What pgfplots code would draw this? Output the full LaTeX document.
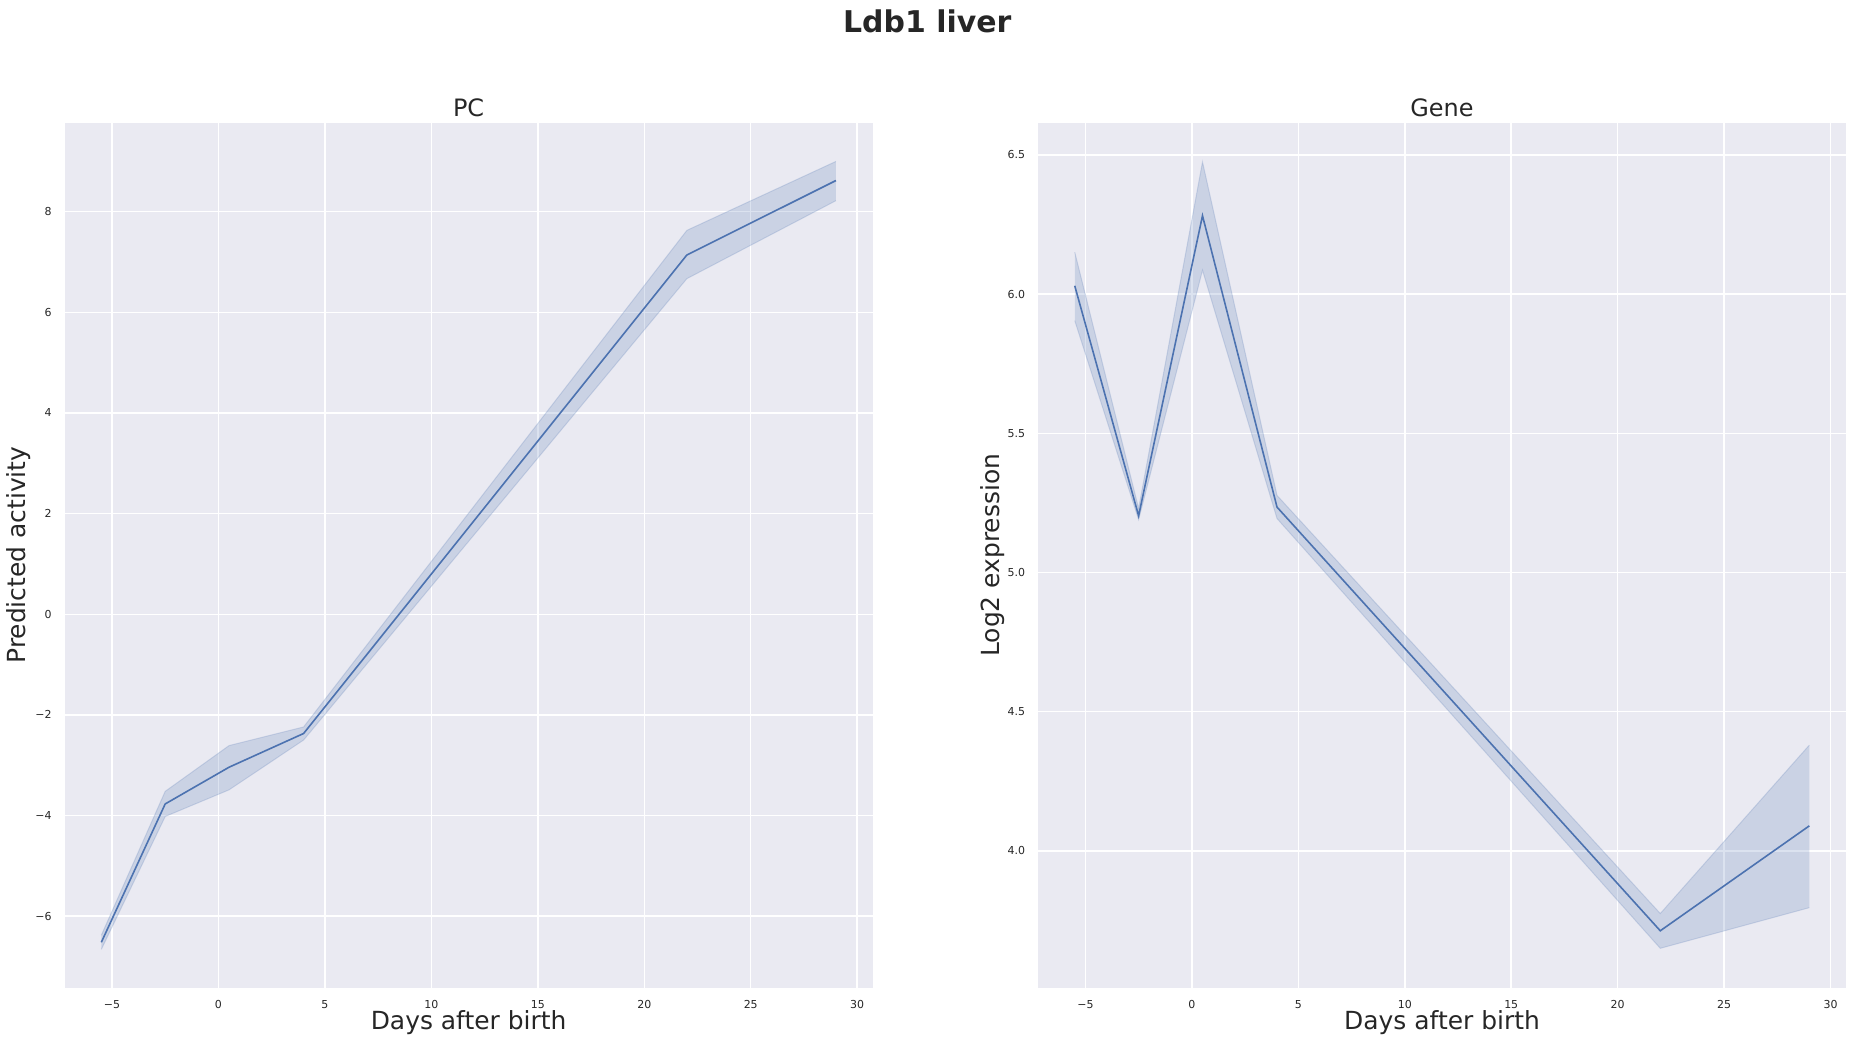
\documentclass[border=0pt]{standalone}
\usepackage{pgfplots}
\pgfplotsset{compat=1.18}
\usepackage{pgfplotstable}
\usepgfplotslibrary{fillbetween}
\usepackage{fontspec}
\setmainfont{DejaVu Sans}
\definecolor{bg}{HTML}{EAEAF2}
\definecolor{sb}{HTML}{4C72B0}
\definecolor{txt}{HTML}{262626}

\pgfplotstableread{
x     mean   upper  lower
-5.5  -6.52  -6.38  -6.66
-2.5  -3.77  -3.52  -4.02
0.5   -3.04  -2.61  -3.49
4     -2.37  -2.24  -2.50
22     7.14   7.63   6.67
29     8.62   9.00   8.22
}\pcdata

\pgfplotstableread{
x     mean   upper  lower
-5.5  6.030  6.151  5.905
-2.5  5.204  5.230  5.190
0.5   6.282  6.475  6.086
4     5.235  5.277  5.194
22    3.713  3.775  3.650
29    4.090  4.380  3.796
}\genedata

\pgfplotsset{sbstyle/.style={
  scale only axis, width=405pt, height=433.5pt,
  axis background/.style={fill=bg},
  axis line style={draw=none},
  grid=major, major grid style={white, line width=0.75pt},
  major tick length=0pt, tick style={draw=none},
  xmin=-7.225, xmax=30.725,
  xtick={-5,0,5,10,15,20,25,30},
  xticklabels={−5,0,5,10,15,20,25,30},
  tick label style={font=\fontsize{5.5}{6}\selectfont, text=txt},
  xticklabel style={yshift=-3pt},
  yticklabel style={xshift=-3pt},
  title style={font=\fontsize{12}{14}\selectfont, text=txt, at={(axis description cs:0.5,1)}, anchor=south, yshift=-6.5pt},
  xlabel style={font=\fontsize{12.5}{15}\selectfont, text=txt, at={(axis description cs:0.5,0)}, anchor=center, yshift=-17.5pt},
  ylabel style={font=\fontsize{12.5}{15}\selectfont, text=txt, at={(axis description cs:0,0.5)}, anchor=center, yshift=23pt},
  xlabel={Days after birth},
}}

\begin{document}
\begin{tikzpicture}
\path (0,0) rectangle (926.5pt,523pt);
\node[font=\bfseries\fontsize{15}{18}\selectfont, text=txt] at (462.5pt,512.5pt) {Ldb1 liver};

\begin{axis}[sbstyle, at={(30.1pt,28pt)}, anchor=south west,
  title={PC}, ylabel={Predicted activity},
  ymin=-7.42, ymax=9.77,
  ytick={-6,-4,-2,0,2,4,6,8},
  yticklabels={−6,−4,−2,0,2,4,6,8}]
\addplot[name path=pcu, draw=sb, draw opacity=0.2, line width=0.5pt] table[x=x, y=upper] {\pcdata};
\addplot[name path=pcl, draw=sb, draw opacity=0.2, line width=0.5pt] table[x=x, y=lower] {\pcdata};
\addplot[fill=sb, fill opacity=0.2, draw=none] fill between[of=pcu and pcl];
\addplot[sb, line width=0.8pt] table[x=x, y=mean] {\pcdata};
\end{axis}

\begin{axis}[sbstyle, at={(518pt,28pt)}, anchor=south west,
  title={Gene}, ylabel={Log2 expression},
  ymin=3.509, ymax=6.616,
  ytick={4.0,4.5,5.0,5.5,6.0,6.5},
  yticklabels={4.0,4.5,5.0,5.5,6.0,6.5}]
\addplot[name path=geu, draw=sb, draw opacity=0.2, line width=0.5pt] table[x=x, y=upper] {\genedata};
\addplot[name path=gel, draw=sb, draw opacity=0.2, line width=0.5pt] table[x=x, y=lower] {\genedata};
\addplot[fill=sb, fill opacity=0.2, draw=none] fill between[of=geu and gel];
\addplot[sb, line width=0.8pt] table[x=x, y=mean] {\genedata};
\end{axis}
\end{tikzpicture}
\end{document}
